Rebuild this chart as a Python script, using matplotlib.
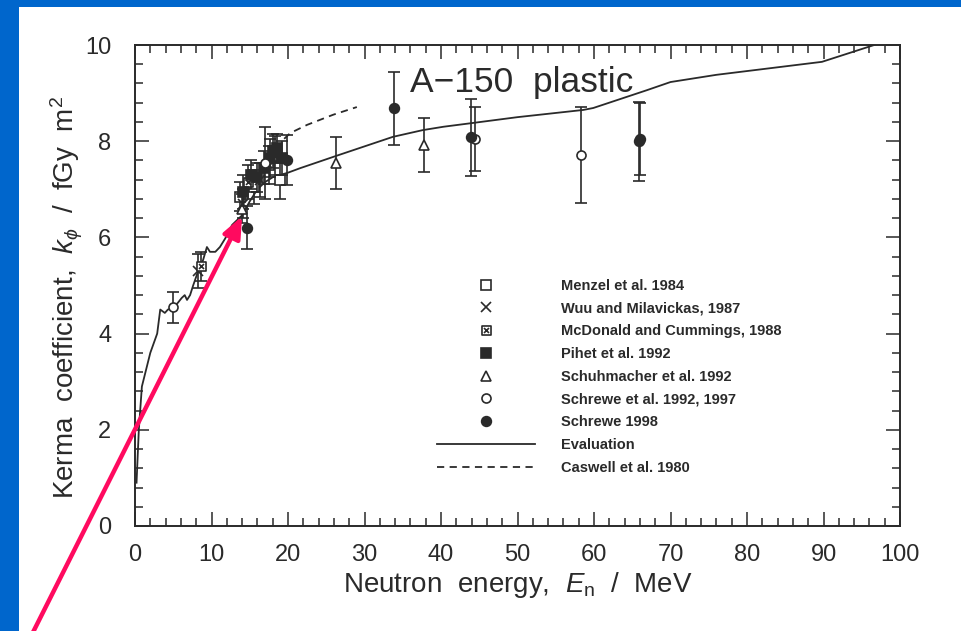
import numpy as np
import matplotlib
matplotlib.use('Agg')
import matplotlib.pyplot as plt
from matplotlib.path import Path
from matplotlib.patches import Rectangle
from matplotlib.ticker import MultipleLocator

plt.rcParams['mathtext.fontset'] = 'custom'
plt.rcParams['mathtext.it'] = 'Liberation Sans:italic'
plt.rcParams['mathtext.rm'] = 'Liberation Sans'

# Evaluation curve (solid)
eval_E = [0.2, 0.5, 0.9, 2.0, 2.9, 3.3, 3.9, 4.3, 5.0, 5.6, 6.1, 6.5, 6.8, 7.2, 7.6, 8.3,
          8.9, 9.4, 9.8, 10.5, 11.1, 11.8, 12.7, 14.0, 15.0, 16.0, 17.0, 18.0, 19.0, 19.9,
          21.6, 26.4, 33.7, 37.6, 40.3, 44.2, 50.0, 58.6, 59.9, 66.9, 70.0, 76.0, 89.8, 97.8]
eval_k = [0.9, 2.0, 2.9, 3.6, 4.0, 4.5, 4.43, 4.5, 4.53, 4.64, 4.74, 4.8, 4.7, 4.8, 5.0, 5.32,
          5.53, 5.8, 5.7, 5.7, 5.8, 5.98, 6.26, 6.46, 6.75, 7.0, 7.15, 7.25, 7.3, 7.34,
          7.44, 7.7, 8.09, 8.23, 8.3, 8.38, 8.5, 8.65, 8.69, 9.06, 9.23, 9.38, 9.65, 10.06]

# Caswell et al. 1980 (dashed)
caswell_E = [19.5, 20.3, 22.5, 25.9, 29.0]
caswell_k = [8.05, 8.17, 8.34, 8.55, 8.71]

# measured points: energy, kerma, error
menzel_E = [13.7, 15.5, 19.0]
menzel_k = [6.85, 7.05, 7.2]
menzel_err = [0.3, 0.35, 0.4]

wuu_E = [8.2, 14.1, 16.3]
wuu_k = [5.3, 6.7, 7.2]
wuu_err = [0.35, 0.3, 0.35]

mcdonald_E = [8.6, 14.8, 17.5, 18.3]
mcdonald_k = [5.4, 7.15, 7.5, 7.7]
mcdonald_err = [0.3, 0.35, 0.4, 0.4]

pihet_E = [14.1, 15.2, 16.0, 16.8, 17.6, 18.0, 18.6, 19.2]
pihet_k = [6.95, 7.3, 7.25, 7.45, 7.65, 7.8, 7.85, 7.65]
pihet_err = [0.35, 0.3, 0.3, 0.35, 0.4, 0.35, 0.3, 0.35]

schuh_E = [14.0, 26.3, 37.8]
schuh_k = [6.6, 7.55, 7.92]
schuh_err = [0.3, 0.54, 0.56]

schrewe97_E = [5.0, 17.0, 44.4, 58.3]
schrewe97_k = [4.55, 7.55, 8.05, 7.72]
schrewe97_err = [0.32, 0.75, 0.67, 1.0]

schrewe98_E = [14.6, 19.9, 33.8, 43.9, 65.9, 66.0]
schrewe98_k = [6.2, 7.6, 8.68, 8.08, 8.0, 8.05]
schrewe98_err = [0.45, 0.52, 0.75, 0.8, 0.82, 0.75]

labels = ['Menzel et al. 1984', 'Wuu and Milavickas, 1987', 'McDonald and Cummings, 1988',
          'Pihet et al. 1992', 'Schuhmacher et al. 1992', 'Schrewe et al. 1992, 1997',
          'Schrewe 1998', 'Evaluation', 'Caswell et al. 1980']

ink = '#2a2a2a'
blue = '#0066CC'
pink = '#FF0A5F'

# square with a cross inside (McDonald marker)
boxx = Path([(-1, -1), (1, -1), (1, 1), (-1, 1), (-1, -1),
             (-0.55, -0.55), (0.55, 0.55), (-0.55, 0.55), (0.55, -0.55)],
            [Path.MOVETO, Path.LINETO, Path.LINETO, Path.LINETO, Path.CLOSEPOLY,
             Path.MOVETO, Path.LINETO, Path.MOVETO, Path.LINETO])

fig = plt.figure(figsize=(9.62, 6.31), dpi=100)
fig.patch.set_facecolor(blue)
fig.patches.append(Rectangle((19 / 962, 0), 1, 1 - 7 / 631, transform=fig.transFigure,
                             facecolor='white', edgecolor='none', zorder=-10))
ax = fig.add_axes([135 / 962, 105 / 631, 765 / 962, 481 / 631])
ax.set_zorder(5)
ax.patch.set_alpha(0)

h_eval, = ax.plot(eval_E, eval_k, color=ink, lw=1.3)
h_cas, = ax.plot(caswell_E, caswell_k, color=ink, lw=1.3, ls=(0, (4, 3)))

sets = [
    (menzel_E, menzel_k, menzel_err, dict(marker='s', mfc='white', ms=6.5)),
    (wuu_E, wuu_k, wuu_err, dict(marker='x', ms=6.5)),
    (mcdonald_E, mcdonald_k, mcdonald_err, dict(marker=boxx, mfc='white', ms=6.5)),
    (pihet_E, pihet_k, pihet_err, dict(marker='s', mfc=ink, ms=6.5)),
    (schuh_E, schuh_k, schuh_err, dict(marker='^', mfc='white', ms=7)),
    (schrewe97_E, schrewe97_k, schrewe97_err, dict(marker='o', mfc='white', ms=6.5)),
    (schrewe98_E, schrewe98_k, schrewe98_err, dict(marker='o', mfc=ink, ms=7)),
]
handles = []
for E, k, err, style in sets:
    ax.errorbar(E, k, yerr=err, fmt='none', ecolor=ink, elinewidth=1.2, capsize=4, capthick=1.2)
    h, = ax.plot(E, k, ls='none', color=ink, mec=ink, mew=1.2, **style)
    handles.append(h)
handles += [h_eval, h_cas]

ax.set_xlim(0, 100)
ax.set_ylim(0, 10)
ax.xaxis.set_major_locator(MultipleLocator(10))
ax.xaxis.set_minor_locator(MultipleLocator(2))
ax.yaxis.set_major_locator(MultipleLocator(2))
ax.yaxis.set_minor_locator(MultipleLocator(0.4))
ax.tick_params(which='both', direction='in', top=True, right=True, color=ink, width=1.1)
ax.tick_params(which='major', length=10)
ax.tick_params(which='minor', length=5.5)
ax.tick_params(axis='x', which='major', pad=13)
ax.tick_params(axis='y', which='major', pad=17)
for lab in ax.get_xticklabels() + ax.get_yticklabels():
    lab.set_family('Liberation Sans')
    lab.set_fontsize(17)
    lab.set_color(ink)
for sp in ax.spines.values():
    sp.set_color(ink)
    sp.set_linewidth(1.4)

ax.set_xlabel(r'Neutron  energy,  $E_\mathrm{n}$  /  MeV', fontsize=20, family='Liberation Sans',
              color=ink, labelpad=3)
ax.set_ylabel(r'Kerma  coefficient,  $k_\phi$  /  fGy  m$^2$', fontsize=20,
              family='Liberation Sans', color=ink)
ax.yaxis.set_label_coords(-0.066, 0.475)

ax.text(36, 9.02, u'A\u2212150  plastic', fontsize=25.5, family='Liberation Sans', color=ink,
        va='baseline', ha='left')

ax.legend(handles, labels, loc='upper left', bbox_to_anchor=(0.395, 0.514), frameon=False,
          borderpad=0, borderaxespad=0, handlelength=6.7, handletextpad=1.8,
          labelspacing=0.6, prop={'family': 'Liberation Sans', 'size': 10.5, 'weight': 'bold'},
          labelcolor=ink)

ax.annotate('', xy=(14.0, 6.44), xycoords='data', xytext=(33 / 962, -0.002),
            textcoords='figure fraction', annotation_clip=False,
            arrowprops=dict(arrowstyle='-|>,head_length=1.3,head_width=0.55', color=pink,
                            lw=3.2, shrinkA=0, shrinkB=0))

fig.savefig('out.png', dpi=100, facecolor=fig.get_facecolor())
